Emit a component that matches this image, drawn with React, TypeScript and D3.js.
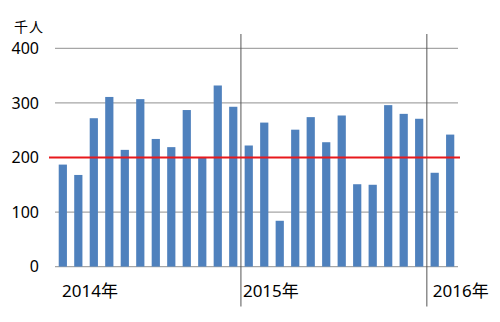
import React from "react";
import * as d3 from "d3";

const months: string[] = [
  "2014-01","2014-02","2014-03","2014-04","2014-05","2014-06","2014-07","2014-08","2014-09","2014-10","2014-11","2014-12",
  "2015-01","2015-02","2015-03","2015-04","2015-05","2015-06","2015-07","2015-08","2015-09","2015-10","2015-11","2015-12",
  "2016-01","2016-02",
];
const visitors: number[] = [
  187, 168, 272, 311, 214, 307, 234, 219, 287, 201, 332, 293,
  222, 264, 84, 251, 274, 228, 277, 151, 150, 296, 280, 271,
  172, 242,
];
const yTicks: number[] = [0, 100, 200, 300, 400];
const yearStarts: string[] = ["2014-01", "2015-01", "2016-01"];
const yearLabels: string[] = ["2014年", "2015年", "2016年"];
const yearLabelOffsets: number[] = [7, 2, 6];
const referenceValue = 200;
const unitLabel = "千人";

const W = 500;
const H = 322;
const font = "'Noto Sans', 'Noto Sans CJK JP', sans-serif";

export default function App() {
  const x = d3.scaleBand<string>().domain(months).range([55, 458]).paddingInner(0.47).paddingOuter(0.24);
  const y = d3.scaleLinear().domain([0, 400]).range([266.6, 48.4]);
  const step = x.step();
  const start0 = 55;
  const boundaryX = (m: string) => start0 + months.indexOf(m) * step;

  return (
    <svg width={W} height={H} style={{ position: "absolute", left: 0, top: 0, background: "#fff" }}>
      {yTicks.map((t) => (
        <g key={t}>
          <line x1={55} x2={458} y1={y(t)} y2={y(t)} stroke="#a6a6a6" strokeWidth={1.2} />
          <text x={39} y={y(t)} dy="0.36em" textAnchor="end" fontFamily={font} fontSize={16} fill="#000">
            {t}
          </text>
        </g>
      ))}
      {months.map((m, i) => (
        <rect key={m} x={x(m)} y={y(visitors[i])} width={x.bandwidth()} height={y(0) - y(visitors[i])} fill="#4f81bd" />
      ))}
      {yearStarts.slice(1).map((m) => (
        <line key={m} x1={boundaryX(m)} x2={boundaryX(m)} y1={34} y2={306.5} stroke="#555" strokeWidth={1} />
      ))}
      <line x1={49} x2={460} y1={y(referenceValue)} y2={y(referenceValue)} stroke="#e8191c" strokeWidth={2} />
      <text x={14} y={32} fontFamily={font} fontSize={14} letterSpacing={1} fill="#000">{unitLabel}</text>
      {yearStarts.map((m, i) => (
        <text key={m} x={boundaryX(m) + yearLabelOffsets[i]} y={297} fontFamily={font} fontSize={17} fill="#000">
          {yearLabels[i]}
        </text>
      ))}
    </svg>
  );
}
